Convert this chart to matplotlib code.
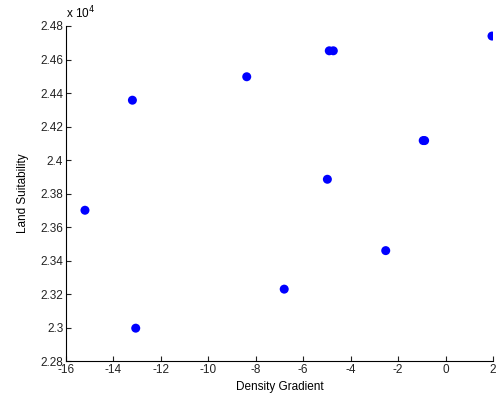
import matplotlib.pyplot as plt
from matplotlib.ticker import FuncFormatter

plt.rcParams['font.family'] = ['Liberation Sans', 'DejaVu Sans']
plt.rcParams['axes.unicode_minus'] = False

density_gradient = [-15.2, -13.06, -13.2, -8.38, -4.90, -4.73, 1.96, -0.94, -0.88, -4.98, -2.52, -6.80]
land_suitability = [23700, 22996, 24357, 24497, 24652, 24652, 24740, 24116, 24116, 23885, 23459, 23229]

fig = plt.figure(figsize=(5.03, 4.0), dpi=100)
ax = fig.add_axes([0.1312, 0.0975, 0.8488, 0.8375])

ax.scatter(density_gradient, [y / 1e4 for y in land_suitability],
           s=42, color='#0000ff', edgecolors='none', zorder=3)

ax.set_xlim(-16, 2)
ax.set_ylim(2.28, 2.48)
ax.set_xticks(range(-16, 3, 2))
ax.set_yticks([2.28 + 0.02 * i for i in range(11)])
ax.yaxis.set_major_formatter(FuncFormatter(lambda v, p: '%g' % round(v, 2)))

ax.spines['right'].set_visible(False)
ax.spines['top'].set_visible(False)
ax.tick_params(direction='in', length=3.5, labelsize=8.5, pad=2, colors='#222222')

ax.set_xlabel('Density Gradient', fontsize=8.5, labelpad=4)
ax.set_ylabel('Land Suitability', fontsize=8.5, labelpad=8)
ax.text(0.0, 1.015, r'x 10$^4$', transform=ax.transAxes, fontsize=8.5, ha='left', va='bottom')

fig.savefig('out.png', dpi=100)
